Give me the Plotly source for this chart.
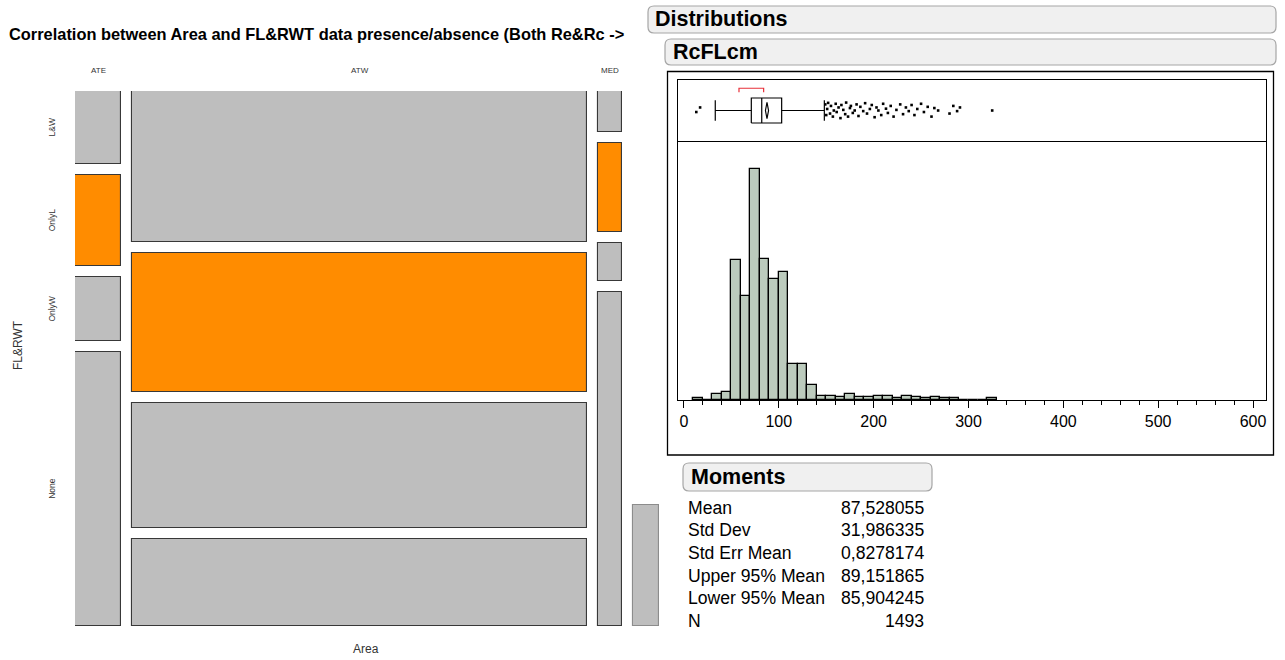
import plotly.graph_objects as go

W, H = 1285, 660

# ---------------- Mosaic data ----------------
areas = ["ATE", "ATW", "MED", ""]
area_weight = [46, 454, 24, 26]
fl_cats = ["L&W", "OnlyL", "OnlyW", "None"]
share_ATE = [73, 91, 64, 275]
share_ATW = [151, 138, 125, 87]
share_MED = [41, 89, 38, 335]
share_X = [127, 127, 127, 121]
shown_X = [False, False, False, True]
highlight_cat = "OnlyL"

# ---------------- Histogram data (RcFLcm) ----------------
bin_left = [10, 20, 30, 40, 50, 60, 70, 80, 90, 100, 110, 120, 130, 140, 150, 160,
            170, 180, 190, 200, 210, 220, 230, 240, 250, 260, 270, 280, 290, 300, 310, 320]
bin_count = [3, 0, 9, 11, 204, 152, 337, 206, 177, 187, 53, 53, 22, 6, 6, 5,
             9, 5, 5, 6, 6, 3, 6, 5, 3, 5, 3, 3, 0, 0, 0, 3]
bin_width = 10

# ---------------- Box plot data ----------------
whisker_lo, q1, median, q3, whisker_hi = 33, 71, 82, 103, 148
shortest_half = [58, 84]
mean_val, ci_lo, ci_hi = 87.528055, 85.904245, 89.151865
out_lo = [13, 17]
jit_lo = [-0.05, 0.1]
out_hi = [149, 150, 151, 152, 154, 155, 157, 158, 160, 161, 163, 165, 166, 168, 170, 171,
          173, 175, 176, 178, 180, 182, 184, 186, 189, 191, 193, 196, 198, 201, 203, 205,
          208, 210, 213, 215, 218, 221, 224, 228, 231, 234, 237, 240, 243, 246, 250, 253,
          257, 261, 264, 268, 280, 284, 288, 291, 325]
jit_hi = [0.2, -0.15, 0.05, 0.25, -0.1, 0.15, -0.2, 0.0, 0.22, -0.05,
          0.1, -0.25, 0.18, 0.02, -0.12, 0.26, -0.2, 0.08, 0.15, -0.08,
          0.0, 0.2, -0.18, 0.12, -0.02, 0.24, -0.1, 0.05, 0.18, -0.22,
          0.1, 0.0, -0.15, 0.22, 0.06, -0.08, 0.15, -0.2, 0.02, 0.2,
          -0.12, 0.1, -0.02, 0.18, -0.15, 0.05, 0.22, -0.05, 0.12, -0.2,
          0.08, 0.0, -0.1, 0.15, -0.02, 0.1, 0.0]

# ---------------- Moments ----------------
moment_names = ["Mean", "Std Dev", "Std Err Mean", "Upper 95% Mean", "Lower 95% Mean", "N"]
moment_values = [87.528055, 31.986335, 0.8278174, 89.151865, 85.904245, 1493]

# =====================================================================
FONT = "Liberation Sans, Arial, sans-serif"
GRAY = "#BEBEBE"
ORANGE = "#FF8C00"


def px(x):
    return x / W


def py(y):
    return 1 - y / H


fig = go.Figure()

# ---------- Mosaic ----------
shares = [share_ATE, share_ATW, share_MED, share_X]
shown = [[True] * 4, [True] * 4, [True] * 4, shown_X]
gx = 11 / 584
gy = 11 / 535
cont_x = 1 - gx * (len(areas) - 1)
cont_y = 1 - gy * (len(fl_cats) - 1)
tot_w = sum(area_weight)
centers, widths = [], []
xc = 0
for w in area_weight:
    ww = w / tot_w * cont_x
    centers.append(xc + ww / 2)
    widths.append(ww)
    xc += ww + gx

bases = [[0] * len(areas) for _ in fl_cats]
heights = [[0] * len(areas) for _ in fl_cats]
for i, sh in enumerate(shares):
    y0 = 0
    s = sum(sh)
    for j, v in enumerate(sh):
        hh = v / s * cont_y
        bases[j][i] = y0
        heights[j][i] = hh
        y0 += hh + gy

for j, cat in enumerate(fl_cats):
    fill = []
    lcol = []
    lw = []
    for i, a in enumerate(areas):
        vis = shown[i][j]
        base_c = ORANGE if cat == highlight_cat else GRAY
        fill.append(base_c if vis else "rgba(0,0,0,0)")
        lcol.append("#383838" if a != "" else "#8c8c8c")
        lw.append(1.1 if vis else 0)
    fig.add_trace(go.Bar(
        x=centers, y=heights[j], base=bases[j], width=widths,
        marker=dict(color=fill, line=dict(color=lcol, width=lw)),
        xaxis="x", yaxis="y", showlegend=False, hoverinfo="skip"))


def ann(x, y, text, size, color="#000", xanchor="center", xref="paper", yref="paper", angle=0):
    return dict(x=x, y=y, xref=xref, yref=yref, text=text, textangle=angle,
                xanchor=xanchor, yanchor="middle", showarrow=False,
                font=dict(family=FONT, size=size, color=color))


annotations = []
for i, a in enumerate(areas):
    if a:
        annotations.append(ann(centers[i], py(71), a, 8, "#333", xref="x"))
for j, cat in enumerate(fl_cats):
    annotations.append(ann(px(52), bases[j][0] + heights[j][0] / 2, cat, 8.5, "#333",
                           yref="y", angle=-90))
annotations.append(ann(px(18), py(345), "FL&RWT", 12, "#333", angle=-90))
annotations.append(ann(px(366), py(649), "Area", 12, "#333"))
annotations.append(ann(px(7), py(34),
                       "<b>Correlation between Area and FL&RWT data presence/absence (Both Re&Rc -></b>",
                       16.4, "#000", xanchor="left"))

# ---------- Histogram ----------
fig.add_trace(go.Bar(
    x=[b + bin_width / 2 for b in bin_left], y=bin_count, width=bin_width,
    marker=dict(color="#BCCBBD", line=dict(color="#000", width=1.3)),
    xaxis="x2", yaxis="y2", showlegend=False, hoverinfo="skip"))

# ---------- Box plot ----------
BH, CAP = 0.41, 0.34


def line_trace(xs, ys, color="#000", width=1.2):
    return go.Scatter(x=xs, y=ys, mode="lines", line=dict(color=color, width=width),
                      xaxis="x3", yaxis="y3", showlegend=False, hoverinfo="skip")


fig.add_trace(line_trace([whisker_lo, q1, None, q3, whisker_hi], [0, 0, None, 0, 0]))
fig.add_trace(line_trace([whisker_lo, whisker_lo, None, whisker_hi, whisker_hi],
                         [-CAP, CAP, None, -CAP, CAP]))
fig.add_trace(line_trace([q1, q3, q3, q1, q1], [-BH, -BH, BH, BH, -BH]))
fig.add_trace(line_trace([median, median], [-BH, BH]))
fig.add_trace(line_trace([ci_lo, mean_val, ci_hi, mean_val, ci_lo], [0, 0.27, 0, -0.27, 0]))
fig.add_trace(line_trace([shortest_half[0], shortest_half[0], shortest_half[1], shortest_half[1]],
                         [0.6, 0.73, 0.73, 0.6], color="#E8303A", width=1.2))
fig.add_trace(go.Scatter(x=out_lo + out_hi, y=jit_lo + jit_hi, mode="markers",
                         marker=dict(symbol="square", size=2.6, color="#000"),
                         xaxis="x3", yaxis="y3", showlegend=False, hoverinfo="skip"))

# ---------- Moments table ----------
for k, (n, v) in enumerate(zip(moment_names, moment_values)):
    yy = py(507.5 + k * 22.7)
    annotations.append(ann(px(686), yy, n, 17.6, xanchor="left"))
    annotations.append(ann(px(926), yy, str(v).replace(".", ","), 17.6, xanchor="right"))


# ---------- Header boxes ----------
def rrect(x0, y0, x1, y1, r=6):
    def P(x, y):
        return f"{px(x):.6f},{py(y):.6f}"
    return (f"M{P(x0 + r, y0)} L{P(x1 - r, y0)} Q{P(x1, y0)} {P(x1, y0 + r)} "
            f"L{P(x1, y1 - r)} Q{P(x1, y1)} {P(x1 - r, y1)} L{P(x0 + r, y1)} "
            f"Q{P(x0, y1)} {P(x0, y1 - r)} L{P(x0, y0 + r)} Q{P(x0, y0)} {P(x0 + r, y0)} Z")


shapes = []
headers = [("Distributions", 648, 6, 1276, 33, 653),
           ("RcFLcm", 665, 39, 1276, 65, 671),
           ("Moments", 683, 463, 932, 491, 689)]
for txt, x0, y0, x1, y1, tx in headers:
    shapes.append(dict(type="path", path=rrect(x0, y0, x1, y1), xref="paper", yref="paper",
                       fillcolor="#F0F0F0", line=dict(color="#A6A6A6", width=1.2), layer="below"))
    annotations.append(ann(px(tx), py((y0 + y1) / 2), f"<b>{txt}</b>", 21.5, xanchor="left"))

# outer frame of the distribution report
shapes.append(dict(type="rect", xref="paper", yref="paper", x0=px(667.5), x1=px(1273.5),
                   y0=py(455), y1=py(71.5), line=dict(color="#000", width=1.3)))

hist_dom_x = [px(678), px(1266)]
fig.update_layout(
    width=W, height=H, autosize=False,
    margin=dict(l=0, r=0, t=0, b=0),
    paper_bgcolor="white", plot_bgcolor="white",
    barmode="overlay", bargap=0,
    font=dict(family=FONT),
    xaxis=dict(domain=[px(75), px(659)], range=[0, 1], visible=False, fixedrange=True),
    yaxis=dict(domain=[py(626), py(91)], range=[1, 0], visible=False, fixedrange=True),
    xaxis2=dict(domain=hist_dom_x, range=[-6.3, 613.7], anchor="y2",
                showline=True, linecolor="#000", linewidth=1.3, showgrid=False, zeroline=False,
                ticks="outside", ticklen=7, tickcolor="#000", tickwidth=1.2,
                tickvals=[0, 100, 200, 300, 400, 500, 600],
                tickfont=dict(family=FONT, size=16, color="#000"),
                minor=dict(dtick=20, tick0=0, ticks="outside", ticklen=4, tickcolor="#000", tickwidth=1,
                           showgrid=False)),
    yaxis2=dict(domain=[py(400), py(141)], range=[0, 378], anchor="x2",
                showline=True, mirror=True, linecolor="#000", linewidth=1.3,
                showgrid=False, zeroline=False, showticklabels=False, ticks=""),
    xaxis3=dict(domain=hist_dom_x, range=[-6.3, 613.7], anchor="y3", matches="x2",
                showline=True, mirror=True, linecolor="#000", linewidth=1.3,
                showgrid=False, zeroline=False, showticklabels=False, ticks=""),
    yaxis3=dict(domain=[py(141), py(80)], range=[-1, 1], anchor="x3",
                showline=True, mirror=True, linecolor="#000", linewidth=1.3,
                showgrid=False, zeroline=False, showticklabels=False, ticks=""),
    annotations=annotations,
    shapes=shapes,
)

fig.write_html("out.html")
